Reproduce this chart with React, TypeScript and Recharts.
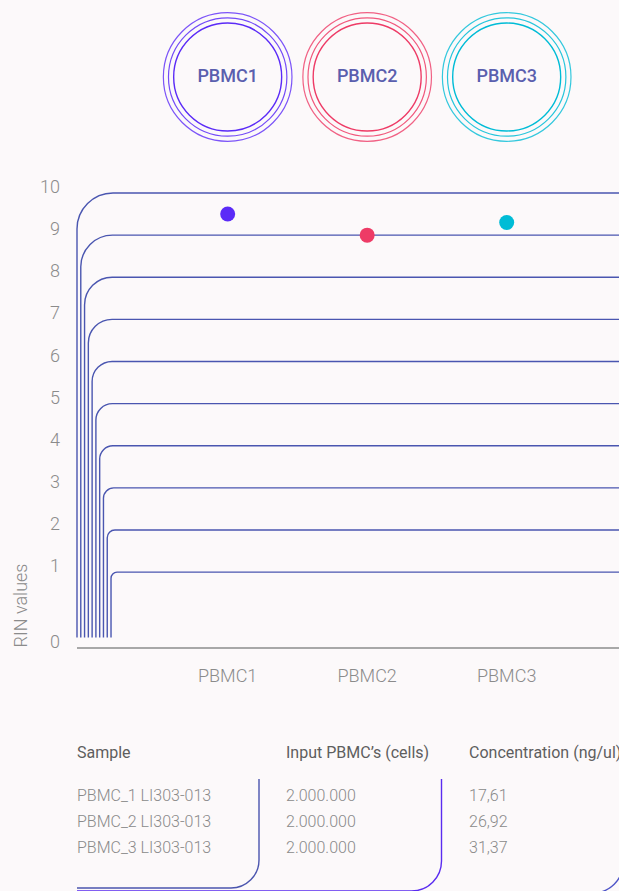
import React from "react";
import { ScatterChart, Scatter, XAxis, YAxis, ReferenceArea, Cell } from "recharts";

const SAMPLES = ["PBMC1", "PBMC2", "PBMC3"];
const RIN = [9.5, 9.0, 9.3];
const COLORS = ["#5b2bf7", "#ee3b66", "#00bcd6"];

// axis floor sits a bit under 1 and is labelled "0"
const Y_MIN = -0.8;
const Y_MAX = 10;
const Y_TICKS = [Y_MIN, 1, 2, 3, 4, 5, 6, 7, 8, 9, 10];
const GRID_LEVELS = [10, 9, 8, 7, 6, 5, 4, 3, 2, 1];
const X_MIN = -0.08;
const X_MAX = 4.4;

const TABLE_HEADERS = ["Sample", "Input PBMC\u2019s (cells)", "Concentration (ng/ul)"];
const SAMPLE_IDS = ["PBMC_1 LI303-013", "PBMC_2 LI303-013", "PBMC_3 LI303-013"];
const INPUT_CELLS = ["2.000.000", "2.000.000", "2.000.000"];
const CONCENTRATION = ["17,61", "26,92", "31,37"];

const data = SAMPLES.map((name, i) => ({ x: i + 1, y: RIN[i], name }));

const W = 619;
const H = 891;
const PLOT_LEFT = 77;
const CHART_W = 702;
const FONT = "Roboto, 'Noto Sans', sans-serif";
const GRID = "#4a56b0";

const xPx = (v: number) => PLOT_LEFT + ((v - X_MIN) / (X_MAX - X_MIN)) * (CHART_W - PLOT_LEFT);

const gridShape = (level: number) => (p: any) => {
  const off = (10 - level) * 3.78;
  const r = 6 + 30 * Math.pow((level - 1) / 9, 1.3);
  const x0 = p.x + off;
  const top = p.y;
  const bottom = p.y + p.height - 10.5;
  const d = `M${p.x + p.width},${top} H${x0 + r} A${r},${r} 0 0 0 ${x0},${top + r} V${bottom}`;
  return <path d={d} fill="none" stroke={GRID} strokeWidth={1.4} />;
};

const YTick = (p: any) => (
  <text x={p.x} y={p.y} textAnchor="end" fill="#8b8b8b" fontSize={18} fontWeight={300} fontFamily={FONT}>
    {p.payload.value === Y_MIN ? "0" : p.payload.value}
  </text>
);

const XTick = (p: any) => (
  <text x={p.x} y={p.y + 33.5} textAnchor="middle" fill="#8b8b8b" fontSize={18} fontWeight={300} fontFamily={FONT}>
    {SAMPLES[p.payload.value - 1]}
  </text>
);

const Dot = (p: any) => {
  const i = SAMPLES.indexOf(p.payload?.name);
  return <circle cx={p.cx} cy={p.cy} r={7.5} fill={COLORS[i] || p.fill} />;
};

function Rings() {
  return (
    <g>
      {SAMPLES.map((s, i) => {
        const cx = xPx(i + 1);
        return (
          <g key={s}>
            <circle cx={cx} cy={77} r={64.3} fill="none" stroke={COLORS[i]} strokeWidth={1.2} opacity={0.8} />
            <circle cx={cx} cy={77} r={59.2} fill="none" stroke={COLORS[i]} strokeWidth={1.2} opacity={0.85} />
            <circle cx={cx} cy={77} r={54} fill="none" stroke={COLORS[i]} strokeWidth={1.4} />
            <text x={cx} y={82} textAnchor="middle" fill="#5a5fae" fontSize={18} fontWeight={500} fontFamily={FONT}>
              {s}
            </text>
          </g>
        );
      })}
    </g>
  );
}

function cornerPath(xv: number, top: number, bottom: number, r: number) {
  return `M${xv},${top} V${bottom - r} A${r},${r} 0 0 1 ${xv - r},${bottom} H77`;
}

function Table() {
  const cols = [77, 286, 469];
  const rowY = [800.5, 826.5, 852.5];
  const columns = [SAMPLE_IDS, INPUT_CELLS, CONCENTRATION];
  return (
    <g fontFamily={FONT}>
      {TABLE_HEADERS.map((h, i) => (
        <text key={h} x={cols[i]} y={757.5} fill="#5e5e5e" fontSize={16} fontWeight={400}>
          {h}
        </text>
      ))}
      {columns.map((col, c) =>
        col.map((v, r) => (
          <text key={`${c}-${r}`} x={cols[c]} y={rowY[r]} fill="#8a8a8a" fontSize={16} fontWeight={300}>
            {v}
          </text>
        ))
      )}
      <path d={cornerPath(259, 779, 888, 28)} fill="none" stroke="#4b55ae" strokeWidth={1.4} />
      <path d={cornerPath(441.5, 779, 891, 30)} fill="none" stroke="#5a2cf0" strokeWidth={1.4} />
      <path d={cornerPath(623, 779, 893, 30)} fill="none" stroke="#4f55c8" strokeWidth={1.4} />
    </g>
  );
}

export default function App() {
  return (
    <div
      style={{
        position: "fixed",
        left: 0,
        top: 0,
        width: W,
        height: H,
        overflow: "hidden",
        background: "#fcf9fa",
        fontFamily: FONT,
      }}
    >
      <svg width={W} height={H} style={{ position: "absolute", left: 0, top: 0 }}>
        <Rings />
        <text
          transform="translate(26.5,605.5) rotate(-90)"
          textAnchor="middle"
          fill="#8b8b8b"
          fontSize={18}
          fontWeight={300}
          fontFamily={FONT}
        >
          RIN values
        </text>
        <Table />
      </svg>
      <div style={{ position: "absolute", left: 0, top: 0 }}>
        <ScatterChart width={CHART_W} height={H} margin={{ top: 193, right: 0, bottom: 213, left: 27 }}>
          <XAxis
            type="number"
            dataKey="x"
            domain={[X_MIN, X_MAX]}
            ticks={[1, 2, 3]}
            tick={<XTick />}
            tickLine={false}
            tickSize={0}
            tickMargin={0}
            height={30}
            axisLine={{ stroke: "#a8a8a8", strokeWidth: 2 }}
          />
          <YAxis
            type="number"
            dataKey="y"
            domain={[Y_MIN, Y_MAX]}
            ticks={Y_TICKS}
            interval={0}
            tick={<YTick />}
            tickLine={false}
            tickSize={0}
            tickMargin={17}
            axisLine={false}
            width={50}
          />
          {GRID_LEVELS.map((lv) => (
            <ReferenceArea
              key={lv}
              x1={X_MIN}
              x2={X_MAX}
              y1={Y_MIN}
              y2={lv}
              ifOverflow="visible"
              shape={gridShape(lv)}
            />
          ))}
          <Scatter data={data} isAnimationActive={false} shape={<Dot />}>
            {data.map((d, i) => (
              <Cell key={d.name} fill={COLORS[i]} />
            ))}
          </Scatter>
        </ScatterChart>
      </div>
    </div>
  );
}
